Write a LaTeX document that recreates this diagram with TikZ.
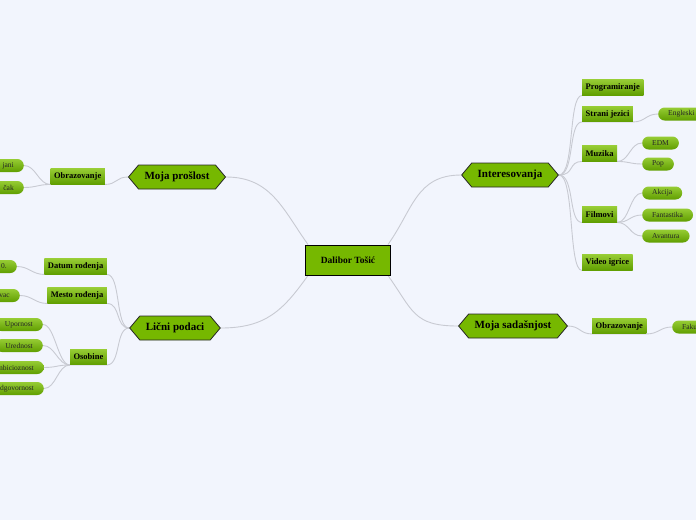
\documentclass[tikz,border=0pt]{standalone}
\usepackage{fontspec}
\setmainfont{Liberation Serif}
\usetikzlibrary{shapes.symbols}
\definecolor{pozadina}{RGB}{242,245,253}
\definecolor{zelena}{RGB}{118,184,0}
\definecolor{zelenaGore}{RGB}{150,204,52}
\definecolor{zelenaDole}{RGB}{96,158,0}
\definecolor{linija}{RGB}{200,202,210}
\pgfdeclarelayer{pozadinski}
\pgfsetlayers{pozadinski,main}
\tikzset{
  koren/.style={draw=black, line width=1pt, fill=zelena, font=\bfseries\fontsize{9.5}{11}\selectfont, minimum width=85, minimum height=30},
  glavni/.style={signal, signal to=west and east, signal pointer angle=100, draw=black!85, line width=0.8pt, fill=zelena, font=\bfseries\fontsize{11}{13}\selectfont, minimum height=24, inner xsep=6, inner ysep=0},
  grana/.style={rectangle, top color=zelenaGore, bottom color=zelenaDole, font=\bfseries\fontsize{8.5}{10}\selectfont, minimum height=15.5, inner xsep=3.5, inner ysep=0},
  list/.style={rectangle, rounded corners=6.5, top color=zelenaGore, bottom color=zelenaDole, text=black!85, font=\fontsize{7.5}{9}\selectfont, minimum height=13, inner xsep=10, inner ysep=0},
  odsecen/.style={list, text width=40, align=right},
  veza/.style={draw=linija, line width=0.9pt},
}
\begin{document}
\begin{tikzpicture}[x=1pt, y=-1pt]
    % Okvir slike
    \useasboundingbox (0,0) rectangle (696,520);
    % Centralni cvor
    \node[koren] (centar) at (348,260) {Dalibor Tošić};
    % Glavne grane
    \node[glavni] (proslost) at (177,177) {Moja prošlost};
    \node[glavni] (licni) at (175,328) {Lični podaci};
    \node[glavni] (interes) at (510,175) {Interesovanja};
    \node[glavni] (sadasnjost) at (513,326) {Moja sadašnjost};
    % Moja prošlost
    \node[grana, anchor=east] (obrP) at (105,176.5) {Obrazovanje};
    \node[odsecen, anchor=east] (skolaA) at (24,165.5) {jani};
    \node[odsecen, anchor=east] (skolaB) at (24,187.5) {čak};
    % Lični podaci
    \node[grana, anchor=east] (datum) at (107,266.5) {Datum rođenja};
    \node[grana, anchor=east] (mesto) at (107,295.5) {Mesto rođenja};
    \node[grana, anchor=east] (osobine) at (107,357) {Osobine};
    \node[odsecen, anchor=east] (datumL) at (17,266.5) {0.};
    \node[odsecen, anchor=east] (mestoL) at (20,295.5) {vac};
    \node[list, anchor=east] (upornost) at (43,324.5) {Upornost};
    \node[list, anchor=east] (urednost) at (43,345.5) {Urednost};
    \node[list, anchor=east] (ambicija) at (44,367.5) {Ambicioznost};
    \node[list, anchor=east] (odgovornost) at (44,388.5) {Odgovornost};
    % Interesovanja
    \node[grana, anchor=west] (prog) at (582,87.5) {Programiranje};
    \node[grana, anchor=west] (jezici) at (582,114) {Strani jezici};
    \node[grana, anchor=west] (muzika) at (582,153.5) {Muzika};
    \node[grana, anchor=west] (filmovi) at (582,214.5) {Filmovi};
    \node[grana, anchor=west] (video) at (582,262.5) {Video igrice};
    \node[list, anchor=west] (engleski) at (658,114) {Engleski};
    \node[list, anchor=west] (edm) at (642,143) {EDM};
    \node[list, anchor=west] (pop) at (642,164) {Pop};
    \node[list, anchor=west] (akcija) at (642,193) {Akcija};
    \node[list, anchor=west] (fantastika) at (642,215) {Fantastika};
    \node[list, anchor=west] (avantura) at (642,236) {Avantura};
    % Moja sadašnjost
    \node[grana, anchor=west] (obrS) at (592,326) {Obrazovanje};
    \node[list, anchor=west] (fakultet) at (672,327) {Fakultet};
    \begin{pgfonlayer}{pozadinski}
    % Pozadina
    \fill[pozadina] (0,0) rectangle (696,520);
    % Veze od centra
    \draw[veza] (proslost.east) .. controls +(45,0) and +(-25,-35) .. ([xshift=3]centar.north west);
    \draw[veza] (licni.east) .. controls +(45,0) and +(-25,35) .. ([xshift=3]centar.south west);
    \draw[veza] (interes.west) .. controls +(-45,0) and +(25,-35) .. ([xshift=-3]centar.north east);
    \draw[veza] (sadasnjost.west) .. controls +(-45,0) and +(25,35) .. ([xshift=-3]centar.south east);
    % Veze desno
    \foreach \g in {prog,jezici,muzika,filmovi,video} {
        \draw[veza] (interes.east) .. controls +(16,0) and +(-14,0) .. (\g.south west) -- (\g.south east);
    }
    \draw[veza] (jezici.south east) .. controls +(12,0) and +(-12,0) .. (engleski.west);
    \foreach \l in {edm,pop} {
        \draw[veza] (muzika.south east) .. controls +(12,0) and +(-12,0) .. (\l.west);
    }
    \foreach \l in {akcija,fantastika,avantura} {
        \draw[veza] (filmovi.south east) .. controls +(12,0) and +(-12,0) .. (\l.west);
    }
    \draw[veza] (sadasnjost.east) .. controls +(12,0) and +(-12,0) .. (obrS.south west) -- (obrS.south east);
    \draw[veza] (obrS.south east) .. controls +(12,0) and +(-12,0) .. (fakultet.west);
    % Veze levo
    \draw[veza] (proslost.west) .. controls +(-12,0) and +(12,0) .. (obrP.south east) -- (obrP.south west);
    \foreach \l in {skolaA,skolaB} {
        \draw[veza] (obrP.south west) .. controls +(-12,0) and +(12,0) .. (\l.east);
    }
    \foreach \g in {datum,mesto,osobine} {
        \draw[veza] (licni.west) .. controls +(-14,0) and +(14,0) .. (\g.south east) -- (\g.south west);
    }
    \draw[veza] (datum.south west) .. controls +(-12,0) and +(12,0) .. (datumL.east);
    \draw[veza] (mesto.south west) .. controls +(-12,0) and +(12,0) .. (mestoL.east);
    \foreach \l in {upornost,urednost,ambicija,odgovornost} {
        \draw[veza] (osobine.south west) .. controls +(-12,0) and +(12,0) .. (\l.east);
    }
    \end{pgfonlayer}
\end{tikzpicture}
\end{document}
